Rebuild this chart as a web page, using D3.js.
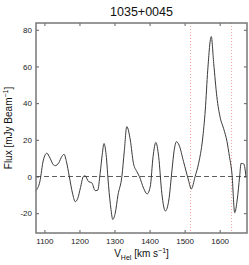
<!DOCTYPE html>
<html><head><meta charset="utf-8">
<script src="https://cdn.jsdelivr.net/npm/d3@7"></script>
<style>
body{margin:0;background:#fff;}
svg{display:block;font-family:"Liberation Sans",Arial,Helvetica,sans-serif;}
</style></head>
<body><svg id="c" width="249" height="265"></svg>
<script>
const title = "1035+0045";
const velocity = [1076,1087,1097,1107,1116,1126,1131,1141,1150,1156,1163,1171,1180,1188,1195,1203,1211,1216,1226,1235,1245,1252,1259,1265,1270,1276,1283,1290,1295,1302,1310,1321,1328,1335,1345,1354,1364,1371,1383,1393,1402,1410,1418,1426,1435,1445,1455,1464,1470,1477,1484,1497,1511,1519,1530,1540,1551,1559,1566,1576,1583,1592,1602,1611,1621,1628,1635,1643,1650,1657,1661,1669,1675];
const flux = [-7.7,-2.8,9,12.7,10,6.3,5.9,7.5,11,12.1,8,0,-9,-13.7,-12,-6,0,0.4,-2.8,-3.4,-7.7,-7.5,1.7,12,18,12,-5,-18,-23.4,-20,-10,0,14,27.2,19.9,7.2,2.6,0,-6.4,-9.5,-5.5,10.8,18.6,10.8,-9.2,-18.8,-12.8,3.5,14,19,17.2,8.1,-1.9,-6.8,0,7.2,19.9,36.3,58,76.3,61.7,43.5,31.7,26.3,19,10.8,1.7,-19.7,-12.8,0,7.2,6.8,0];
const xTicks = [1100,1200,1300,1400,1500,1600];
const yTicks = [-20,0,20,40,60,80];
const markerLines = [1517,1634];

const svg = d3.select("#c");
const L=36,R=247,T=23,B=233;
const x = d3.scaleLinear().domain([1076,1678]).range([L,R]);
const y = d3.scaleLinear().domain([-30.8,83.7]).range([B,T]);

svg.selectAll(".mk").data(markerLines).join("line")
 .attr("x1",d=>x(d)).attr("x2",d=>x(d)).attr("y1",T).attr("y2",B)
 .attr("stroke","#f5a3a3").attr("stroke-width",1).attr("stroke-dasharray","1,2");

svg.append("line").attr("x1",L).attr("x2",R).attr("y1",y(0)).attr("y2",y(0))
 .attr("stroke","#333").attr("stroke-width",0.8).attr("stroke-dasharray","5,3");

const data = velocity.map((v,i)=>[v,flux[i]]);
svg.append("path").datum(data)
 .attr("d",d3.line().x(d=>x(d[0])).y(d=>y(d[1])).curve(d3.curveMonotoneX))
 .attr("fill","none").attr("stroke","#3a3a3a").attr("stroke-width",1);

const fmt = d=>String(d);
svg.append("g").attr("transform",`translate(0,${B})`)
 .call(d3.axisBottom(x).tickValues(xTicks).tickSize(-3).tickPadding(5).tickFormat(fmt));
svg.append("g").attr("transform",`translate(0,${T})`)
 .call(d3.axisTop(x).tickValues(xTicks).tickSize(-3).tickFormat(""));
svg.append("g").attr("transform",`translate(${L},0)`)
 .call(d3.axisLeft(y).tickValues(yTicks).tickSize(-3).tickPadding(4).tickFormat(fmt));
svg.append("g").attr("transform",`translate(${R},0)`)
 .call(d3.axisRight(y).tickValues(yTicks).tickSize(-3).tickFormat(""));
svg.selectAll(".domain").remove();
svg.selectAll(".tick line").attr("stroke","#333").attr("stroke-width",0.8);
svg.selectAll(".tick text").attr("font-size",8).attr("fill","#222").attr("font-family","'Liberation Sans',Arial,sans-serif");

svg.append("rect").attr("x",L).attr("y",T).attr("width",R-L).attr("height",B-T)
 .attr("fill","none").attr("stroke","#777").attr("stroke-width",1.5);

svg.append("text").attr("x",(L+R)/2).attr("y",16).attr("text-anchor","middle")
 .attr("font-size",12.5).attr("fill","#111").text(title);

const xl = svg.append("text").attr("x",(L+R)/2).attr("y",257).attr("text-anchor","middle")
 .attr("font-size",10).attr("fill","#111");
xl.append("tspan").text("V");
xl.append("tspan").attr("font-size",7).attr("dy",3).text("Hel");
xl.append("tspan").attr("dy",-3).text(" [km s");
xl.append("tspan").attr("font-size",7).attr("dy",-4).text("−1");
xl.append("tspan").attr("dy",4).text("]");

const yl = svg.append("text").attr("transform",`translate(12,${(T+B)/2}) rotate(-90)`)
 .attr("text-anchor","middle").attr("font-size",10).attr("fill","#111");
yl.append("tspan").text("Flux [mJy Beam");
yl.append("tspan").attr("font-size",7).attr("dy",-4).text("−1");
yl.append("tspan").attr("dy",4).text("]");
</script></body></html>
